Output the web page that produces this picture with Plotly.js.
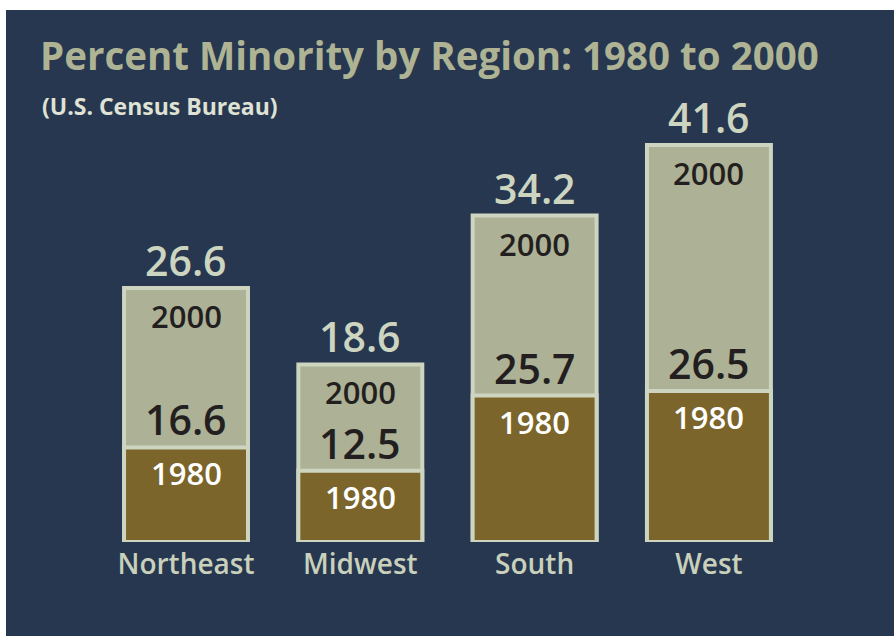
<!DOCTYPE html>
<html>
<head>
<meta charset="utf-8">
<script src="https://cdn.plot.ly/plotly-3.0.1.min.js"></script>
<style>
  html, body { margin: 0; padding: 0; background: #ffffff; }
  #chart { position: absolute; left: 6px; top: 10px; width: 888px; height: 626px; }
</style>
</head>
<body>
<div id="chart"></div>
<script>
// ---- data ----
const regions = ['Northeast', 'Midwest', 'South', 'West'];
const pct1980 = [16.6, 12.5, 25.7, 26.5];
const pct2000 = [26.6, 18.6, 34.2, 41.6];
const yearLabels = ['1980', '2000'];
const chartTitle = 'Percent Minority by Region: 1980 to 2000';
const chartSource = '(U.S. Census Bureau)';

// ---- styles ----
const NAVY = '#26374f';
const KHAKI = '#adb195';
const BROWN = '#7b652a';
const EDGE = '#cdd5c0';
const DARK = '#231f20';
const FONT = 'Open Sans, Noto Sans, sans-serif';
const BARW = 0.711;

const traces = [
  {
    type: 'bar', name: yearLabels[1], x: regions, y: pct2000,
    xaxis: 'x', yaxis: 'y', width: BARW,
    marker: { color: KHAKI, line: { color: EDGE, width: 4 } },
    hoverinfo: 'x+y'
  },
  {
    type: 'bar', name: yearLabels[0], x: regions, y: pct1980,
    xaxis: 'x', yaxis: 'y2', width: BARW,
    marker: { color: BROWN, line: { color: EDGE, width: 4 } },
    hoverinfo: 'x+y'
  }
];

const annotations = [];
regions.forEach((r, i) => {
  // total 2000 value above bar
  annotations.push({
    x: r, y: pct2000[i], xref: 'x', yref: 'y', yanchor: 'bottom', yshift: -2,
    text: pct2000[i].toFixed(1), showarrow: false,
    font: { family: FONT, size: 41, color: EDGE, weight: 600 }
  });
  // "2000" label inside top of 2000 bar
  annotations.push({
    x: r, y: pct2000[i], xref: 'x', yref: 'y', yanchor: 'top', yshift: -5,
    text: yearLabels[1], showarrow: false,
    font: { family: FONT, size: 31, color: DARK, weight: 600 }
  });
  // 1980 value above 1980 bar
  annotations.push({
    x: r, y: pct1980[i], xref: 'x', yref: 'y2', yanchor: 'bottom', yshift: -2,
    text: pct1980[i].toFixed(1), showarrow: false,
    font: { family: FONT, size: 41, color: DARK, weight: 600 }
  });
  // "1980" label inside top of 1980 bar
  annotations.push({
    x: r, y: pct1980[i], xref: 'x', yref: 'y2', yanchor: 'top', yshift: -3,
    text: yearLabels[0], showarrow: false,
    font: { family: FONT, size: 31, color: '#ffffff', weight: 600 }
  });
});

annotations.push({
  x: 14 / 848, xref: 'paper', y: 1.027, yref: 'paper', xanchor: 'left', yanchor: 'top',
  text: chartSource, showarrow: false,
  font: { family: FONT, size: 23, color: '#dfe2d4', weight: 700 }
});

const layout = {
  width: 888, height: 626,
  paper_bgcolor: NAVY, plot_bgcolor: NAVY,
  margin: { l: 20, r: 20, t: 90, b: 94 },
  showlegend: false,
  barmode: 'overlay',
  title: {
    text: chartTitle, xref: 'container', x: 34 / 888, xanchor: 'left',
    yref: 'container', y: 0.947, yanchor: 'top',
    font: { family: FONT, size: 38.5, color: '#aeb394', weight: 700 }
  },
  xaxis: {
    type: 'category', range: [-0.918, 3.947],
    showgrid: false, zeroline: false, showline: false, ticks: '',
    ticklabelstandoff: 3,
    tickfont: { family: FONT, size: 28, color: '#c9d0bc', weight: 600 },
    fixedrange: true
  },
  yaxis: { range: [0, 46.31], visible: false, fixedrange: true },
  yaxis2: { range: [0, 77.6], visible: false, overlaying: 'y', fixedrange: true },
  annotations: annotations
};

Plotly.newPlot('chart', traces, layout, { displayModeBar: false, staticPlot: true });
</script>
</body>
</html>
